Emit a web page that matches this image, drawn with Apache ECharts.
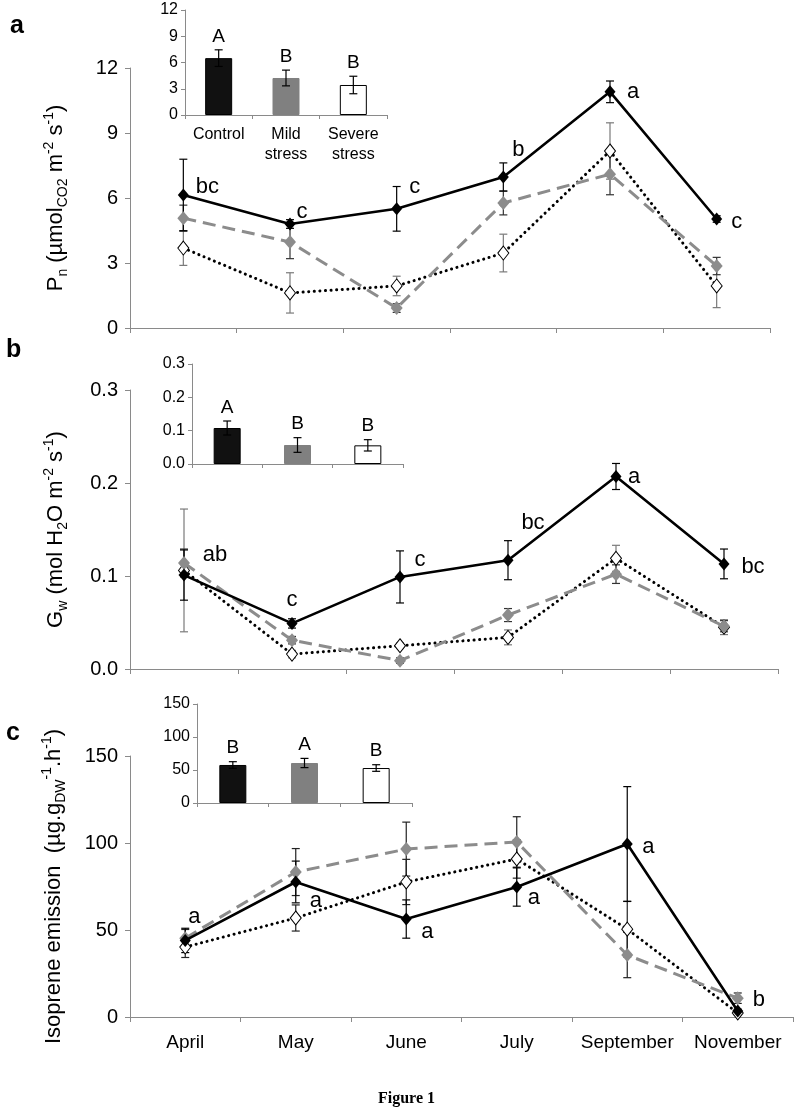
<!DOCTYPE html>
<html><head><meta charset="utf-8">
<script src="https://cdn.jsdelivr.net/npm/echarts@6/dist/echarts.min.js"></script>
<style>html,body{margin:0;padding:0;background:#fff}#c{width:796px;height:1118px}</style>
</head><body><div id="c"></div>
<script>
// ---------- DATA ----------
const months = ['April', 'May', 'June', 'July', 'September', 'November'];
const treatments = ['Control', 'Mild\nstress', 'Severe\nstress'];

// Panel a: Pn
const pnControl = [6.14, 4.8, 5.5, 6.97, 10.9, 5.03];
const pnControlErr = [1.65, 0.2, 1.03, 0.65, 0.5, 0.15];
const pnMild = [5.07, 3.97, 0.92, 5.77, 7.1, 2.86];
const pnMildErr = [0.6, 0.77, 0.2, 0.55, 0.95, 0.4];
const pnSevere = [3.69, 1.62, 1.94, 3.46, 8.17, 1.94];
const pnSevereErr = [0.8, 0.93, 0.45, 0.87, 1.3, 1.0];
const pnLetters = ['bc', 'c', 'c', 'b', 'a', 'c'];
const pnInset = [6.5, 4.23, 3.43];
const pnInsetErr = [0.95, 0.9, 1.0];
const pnInsetLetters = ['A', 'B', 'B'];

// Panel b: Gw
const gwControl = [0.101, 0.049, 0.099, 0.117, 0.207, 0.113];
const gwControlErr = [0.027, 0.005, 0.028, 0.021, 0.014, 0.016];
const gwMild = [0.114, 0.031, 0.009, 0.058, 0.102, 0.046];
const gwMildErr = [0.015, 0.004, 0.003, 0.007, 0.01, 0.006];
const gwSevere = [0.106, 0.016, 0.025, 0.034, 0.119, 0.045];
const gwSevereErr = [0.066, 0.004, 0.003, 0.008, 0.014, 0.008];
const gwLetters = ['ab', 'c', 'c', 'bc', 'a', 'bc'];
const gwInset = [0.108, 0.057, 0.056];
const gwInsetErr = [0.021, 0.022, 0.017];
const gwInsetLetters = ['A', 'B', 'B'];

// Panel c: isoprene emission
const isoControl = [44, 77.6, 56.3, 74.7, 99.4, 3.5];
const isoControlErr = [7, 12, 11, 11, 33, 1];
const isoMild = [45.3, 83.3, 96.5, 100.6, 35.6, 10.8];
const isoMildErr = [5, 13.5, 15.5, 14.5, 13, 3];
const isoSevere = [40.2, 56.9, 77.6, 90.8, 50.5, 2.3];
const isoSevereErr = [6, 7.5, 13, 11, 16, 1];
const isoLetters = ['a', 'a', 'a', 'a', 'a', 'b'];
const isoInset = [57.6, 60.6, 53];
const isoInsetErr = [5, 7, 5];
const isoInsetLetters = ['B', 'A', 'B'];

// ---------- LAYOUT (pixel offsets of letter labels from the control markers) ----------
const pnLetterOffsets = [[24, -8], [12, -12], [18, -22], [15, -27], [23, 0], [20, 3]];
const gwLetterOffsets = [[31, -20], [0, -23], [20, -17], [25, -37], [18, 0], [29, 3]];
const isoLetterOffsets = [[9, -24], [20, 19], [21, 13], [17, 11], [21, 3], [21, -11]];

const FONT = '"Liberation Sans", Arial, sans-serif';
const AX = '#8a8a8a';

const chart = echarts.init(document.getElementById('c'), null, { renderer: 'canvas' });

function mainX(gi, showLabels) {
  return {
    type: 'category', gridIndex: gi, data: months, boundaryGap: true,
    axisLine: { lineStyle: { color: AX, width: 1 } },
    axisTick: { show: true, alignWithLabel: false, length: 5, lineStyle: { color: AX } },
    axisLabel: { show: showLabels, interval: 0, color: '#000', fontSize: 19, fontFamily: FONT, margin: 16 },
    splitLine: { show: false }
  };
}
function mainY(gi, max, interval, dec, name, gap) {
  return {
    type: 'value', gridIndex: gi, min: 0, max: max, interval: interval,
    axisLine: { show: true, lineStyle: { color: AX, width: 1 } },
    axisTick: { show: true, length: 5, lineStyle: { color: AX } },
    axisLabel: { color: '#000', fontSize: 20, fontFamily: FONT, margin: 12,
      formatter: v => dec ? v.toFixed(dec) : String(Math.round(v)) },
    splitLine: { show: false },
    name: name, nameLocation: 'middle', nameGap: gap, nameRotate: 90,
    nameTextStyle: {
      color: '#000', fontFamily: FONT,
      rich: {
        n: { fontSize: 22, fontFamily: FONT, color: '#000', lineHeight: 28 },
        sub: { fontSize: 14, fontFamily: FONT, color: '#000', verticalAlign: 'bottom', lineHeight: 28 },
        sup: { fontSize: 14, fontFamily: FONT, color: '#000', verticalAlign: 'top', lineHeight: 28 }
      }
    }
  };
}
function insetX(gi, showLabels) {
  return {
    type: 'category', gridIndex: gi, data: treatments, boundaryGap: true,
    axisLine: { lineStyle: { color: AX, width: 1 } },
    axisTick: { show: true, alignWithLabel: false, length: 4, lineStyle: { color: AX } },
    axisLabel: { show: showLabels, interval: 0, color: '#000', fontSize: 16, fontFamily: FONT, margin: 10, lineHeight: 20 },
    splitLine: { show: false }
  };
}
function insetY(gi, max, interval, dec) {
  return {
    type: 'value', gridIndex: gi, min: 0, max: max, interval: interval,
    axisLine: { show: true, lineStyle: { color: AX, width: 1 } },
    axisTick: { show: true, length: 4, lineStyle: { color: AX } },
    axisLabel: { color: '#000', fontSize: 16, fontFamily: FONT, margin: 7,
      formatter: v => dec ? v.toFixed(dec) : String(Math.round(v)) },
    splitLine: { show: false }
  };
}

function errSeries(ai, vals, errs, color, capW, letters, z) {
  return {
    type: 'custom', xAxisIndex: ai, yAxisIndex: ai, z: z, silent: true,
    data: vals.map((v, i) => [i, v, errs[i]]),
    renderItem(params, api) {
      const x = api.value(0), y = api.value(1), e = api.value(2);
      const top = api.coord([x, y + e]), bot = api.coord([x, y - e]);
      const st = { stroke: color, lineWidth: 1.2 };
      const children = [
        { type: 'line', shape: { x1: top[0], y1: top[1], x2: bot[0], y2: bot[1] }, style: st },
        { type: 'line', shape: { x1: top[0] - capW / 2, y1: top[1], x2: top[0] + capW / 2, y2: top[1] }, style: st },
        { type: 'line', shape: { x1: bot[0] - capW / 2, y1: bot[1], x2: bot[0] + capW / 2, y2: bot[1] }, style: st }
      ];
      if (letters) {
        children.push({ type: 'text', x: top[0], y: top[1] - 4,
          style: { text: letters[params.dataIndex], fill: '#000', fontSize: 19, fontFamily: FONT,
            align: 'center', verticalAlign: 'bottom' } });
      }
      return { type: 'group', children };
    }
  };
}

function controlLine(ai, vals, letters, offsets) {
  return {
    type: 'line', xAxisIndex: ai, yAxisIndex: ai, z: 5,
    data: vals.map((v, i) => ({ value: v,
      label: { show: true, position: 'inside', formatter: letters[i], offset: offsets[i],
        fontSize: 22, fontFamily: FONT, color: '#000' } })),
    symbol: 'diamond', symbolSize: [11, 13],
    lineStyle: { color: '#000', width: 2.6 },
    itemStyle: { color: '#000' },
    animation: false
  };
}
function mildLine(ai, vals) {
  return {
    type: 'line', xAxisIndex: ai, yAxisIndex: ai, z: 4, data: vals,
    symbol: 'diamond', symbolSize: [12, 14],
    lineStyle: { color: '#8c8c8c', width: 3, type: [13, 7] },
    itemStyle: { color: '#8c8c8c' },
    animation: false
  };
}
function severeLine(ai, vals) {
  return {
    type: 'line', xAxisIndex: ai, yAxisIndex: ai, z: 3, data: vals,
    symbol: 'diamond', symbolSize: [11, 14],
    lineStyle: { color: '#000', width: 3, type: [0.1, 5.5], cap: 'round' },
    itemStyle: { color: '#fff', borderColor: '#000', borderWidth: 1 },
    animation: false
  };
}
function insetBars(ai, vals) {
  const colors = ['#111', '#808080', '#fff'];
  return {
    type: 'bar', xAxisIndex: ai, yAxisIndex: ai, barWidth: 27, z: 2,
    data: vals.map((v, i) => ({ value: v,
      itemStyle: { color: colors[i], borderColor: i === 1 ? '#808080' : '#000', borderWidth: 1 } })),
    animation: false
  };
}

const option = {
  backgroundColor: '#fff',
  animation: false,
  grid: [
    { left: 130, top: 68, width: 640, height: 260 },
    { left: 130, top: 390, width: 648, height: 279 },
    { left: 130, top: 756, width: 663, height: 261 },
    { left: 185, top: 10, width: 202, height: 105 },
    { left: 192, top: 364, width: 211, height: 100 },
    { left: 197, top: 704, width: 215, height: 99 }
  ],
  xAxis: [mainX(0, false), mainX(1, false), mainX(2, true), insetX(3, true), insetX(4, false), insetX(5, false)],
  yAxis: [
    mainY(0, 12, 3, 0, '{n|P}{sub|n}{n| (µmol}{sub|CO2}{n| m}{sup|-2}{n| s}{sup|-1}{n|)}', 60),
    mainY(1, 0.3, 0.1, 1, '{n|G}{sub|w}{n| (mol H}{sub|2}{n|O m}{sup|-2}{n| s}{sup|-1}{n|)}', 60),
    mainY(2, 150, 50, 0, '{n|Isoprene emission  (µg.g}{sub|DW}{sup|-1}{n|.h}{sup|-1}{n|)}', 62),
    insetY(3, 12, 3, 0),
    insetY(4, 0.3, 0.1, 1),
    insetY(5, 150, 50, 0)
  ],
  series: [
    errSeries(0, pnSevere, pnSevereErr, '#7a7a7a', 8, null, 1),
    errSeries(0, pnMild, pnMildErr, '#333', 8, null, 1),
    errSeries(0, pnControl, pnControlErr, '#000', 8, null, 1),
    severeLine(0, pnSevere), mildLine(0, pnMild), controlLine(0, pnControl, pnLetters, pnLetterOffsets),

    errSeries(1, gwSevere, gwSevereErr, '#7a7a7a', 8, null, 1),
    errSeries(1, gwMild, gwMildErr, '#333', 8, null, 1),
    errSeries(1, gwControl, gwControlErr, '#000', 8, null, 1),
    severeLine(1, gwSevere), mildLine(1, gwMild), controlLine(1, gwControl, gwLetters, gwLetterOffsets),

    errSeries(2, isoSevere, isoSevereErr, '#222', 8, null, 1),
    errSeries(2, isoMild, isoMildErr, '#222', 8, null, 1),
    errSeries(2, isoControl, isoControlErr, '#000', 8, null, 1),
    severeLine(2, isoSevere), mildLine(2, isoMild), controlLine(2, isoControl, isoLetters, isoLetterOffsets),

    insetBars(3, pnInset), errSeries(3, pnInset, pnInsetErr, '#000', 8, pnInsetLetters, 3),
    insetBars(4, gwInset), errSeries(4, gwInset, gwInsetErr, '#000', 8, gwInsetLetters, 3),
    insetBars(5, isoInset), errSeries(5, isoInset, isoInsetErr, '#000', 8, isoInsetLetters, 3)
  ],
  graphic: [
    { type: 'text', left: 10, top: 14, style: { text: 'a', fontSize: 25, fontWeight: 'bold', fontFamily: FONT, fill: '#000' } },
    { type: 'text', left: 6, top: 338, style: { text: 'b', fontSize: 25, fontWeight: 'bold', fontFamily: FONT, fill: '#000' } },
    { type: 'text', left: 6, top: 721, style: { text: 'c', fontSize: 25, fontWeight: 'bold', fontFamily: FONT, fill: '#000' } },
    { type: 'text', left: 378, top: 1091, style: { text: 'Figure 1', fontSize: 16, fontWeight: 'bold', fontFamily: '"Liberation Serif", "Times New Roman", serif', fill: '#000' } }
  ]
};
chart.setOption(option);
</script>
</body></html>
